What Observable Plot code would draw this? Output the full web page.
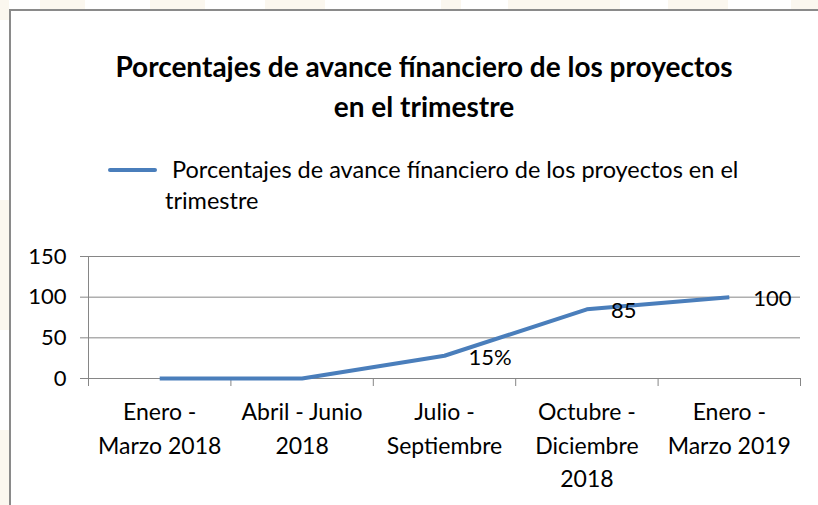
<!DOCTYPE html>
<html>
<head>
<meta charset="utf-8">
<script src="https://cdn.jsdelivr.net/npm/d3@7"></script>
<script src="https://cdn.jsdelivr.net/npm/@observablehq/plot@0.6"></script>
<style>
  html, body { margin: 0; padding: 0; background: #ffffff; }
  body { width: 818px; height: 505px; position: relative; overflow: hidden; font-family: Lato, "Open Sans", sans-serif; color: #000; }
  .wm { position: absolute; background: #fbf7ef; }
  #frame { position: absolute; left: 9px; top: 9px; width: 840px; height: 520px; border: 2px solid #8a8a8a; box-sizing: border-box; background: #fff; }
  #title { position: absolute; left: 0; width: 848px; top: 46px; font-weight: bold; font-size: 28px; line-height: 40px; }
  #title div { width: 848px; text-align: center; }
  #legend { position: absolute; left: 108px; top: 154px; width: 680px; font-size: 23.5px; line-height: 31px; }
  #legend .sw { position: absolute; left: 0; top: 14px; width: 49px; height: 4px; background: #4a7ebb; border-radius: 2px; }
  #legend .tx { position: absolute; left: 57px; top: 0; width: 620px; text-indent: 7px; white-space: nowrap; }
  #chart { position: absolute; left: 0; top: 240px; }
</style>
</head>
<body>
<div class="wm" style="left:40px;top:0;width:45px;height:9px;"></div>
<div class="wm" style="left:150px;top:0;width:55px;height:9px;"></div>
<div class="wm" style="left:265px;top:0;width:60px;height:9px;"></div>
<div class="wm" style="left:441px;top:0;width:20px;height:9px;"></div>
<div class="wm" style="left:508px;top:0;width:112px;height:9px;"></div>
<div class="wm" style="left:668px;top:0;width:60px;height:9px;"></div>
<div class="wm" style="left:791px;top:0;width:27px;height:9px;"></div>
<div class="wm" style="left:0;top:0;width:9px;height:20px;"></div>
<div class="wm" style="left:0;top:200px;width:9px;height:130px;"></div>
<div class="wm" style="left:0;top:430px;width:9px;height:75px;"></div>
<div id="frame"></div>
<div id="title"><div>Porcentajes de avance fínanciero de los proyectos</div><div>en el trimestre</div></div>
<div id="legend"><div class="sw"></div><div class="tx">Porcentajes de avance fínanciero de los proyectos en el<br>trimestre</div></div>
<div id="chart"></div>
<script>
const categories = ["Enero - Marzo 2018", "Abril - Junio 2018", "Julio - Septiembre", "Octubre - Diciembre 2018", "Enero - Marzo 2019"];
const categoryLines = ["Enero -\nMarzo 2018", "Abril - Junio\n2018", "Julio -\nSeptiembre", "Octubre -\nDiciembre\n2018", "Enero -\nMarzo 2019"];
const values = [0, 0, 28, 85, 100];
const dataLabels = ["", "", "15%", "85", "100"];
const yTicks = [0, 50, 100, 150];

const rows = categories.map((c, i) => ({cat: c, pos: i + 0.5, label: categoryLines[i], value: values[i], dl: dataLabels[i]}));
const boundaries = d3.range(categories.length + 1);
const gridColor = "#868686";
const fontSize = 22;

const chart = Plot.plot({
  width: 818,
  height: 265,
  marginLeft: 88,
  marginRight: 18,
  marginTop: 16,
  marginBottom: 127,
  style: {fontFamily: "Lato, 'Open Sans', sans-serif", background: "transparent", overflow: "visible"},
  x: {type: "linear", domain: [0, categories.length], axis: null},
  y: {domain: [0, 150], axis: null},
  marks: [
    Plot.ruleY(yTicks.filter(d => d > 0), {stroke: gridColor, strokeWidth: 1}),
    Plot.ruleY(yTicks, {x1: 0, x2: 0, insetLeft: -8, stroke: gridColor}),
    Plot.ruleX([0], {y1: 0, y2: 150, stroke: gridColor}),
    Plot.ruleY([0], {stroke: gridColor}),
    Plot.ruleX(boundaries, {y1: 0, y2: 0, stroke: gridColor, insetBottom: -8}),
    Plot.text(yTicks, {x: 0, y: d => d, text: d => String(d), textAnchor: "end", dx: -22, fontSize: fontSize, fill: "#000"}),
    Plot.text(rows, {x: "pos", y: 0, text: "label", lineAnchor: "top", dy: 18, lineHeight: 1.45, fontSize: 23, fill: "#000"}),
    Plot.line(rows, {x: "pos", y: "value", stroke: "#4a7ebb", strokeWidth: 4, strokeLinejoin: "round", strokeLinecap: "butt"}),
    Plot.text(rows, {x: "pos", y: "value", text: "dl", textAnchor: "start", dx: 24, dy: 2, fontSize: fontSize, fill: "#000"})
  ]
});
document.getElementById("chart").appendChild(chart);
</script>
</body>
</html>
